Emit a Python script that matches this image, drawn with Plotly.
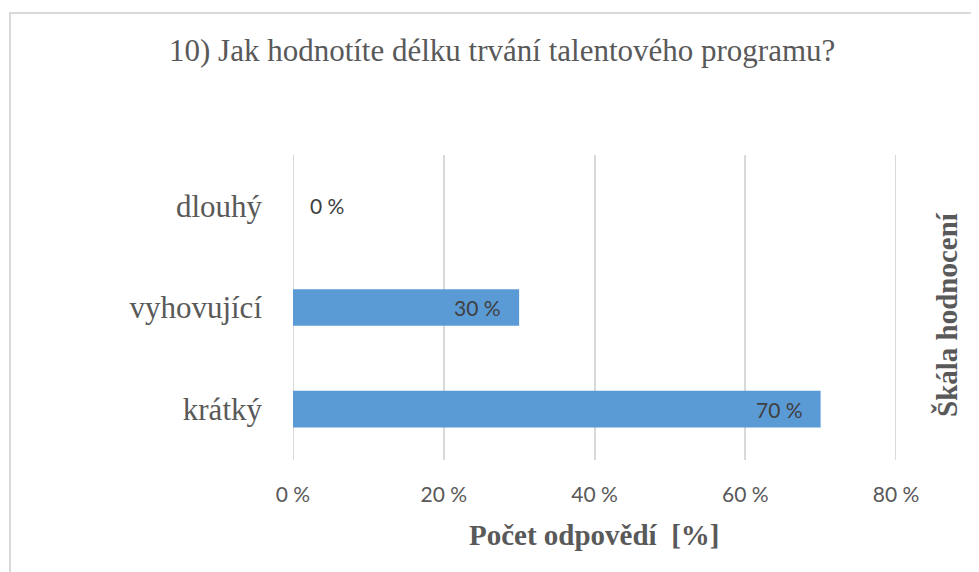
import plotly.graph_objects as go

categories = ["krátký", "vyhovující", "dlouhý"]
values = [70, 30, 0]
value_labels = ["70 %", "30 %", "0 %"]
tick_vals = [0, 20, 40, 60, 80]
tick_text = ["0 %", "20 %", "40 %", "60 %", "80 %"]
title_text = "10) Jak hodnotíte délku trvání talentového programu?"
x_title = "Počet odpovědí  [%]"
y_title = "Škála hodnocení"

SERIF = "Liberation Serif, Times New Roman, serif"
SANS = "Lato, sans-serif"
GRID = "#D9D9D9"

W, H = 971, 564
L, R, T, B = 285, 83, 147, 112
PW, PH = W - L - R, H - T - B

fig = go.Figure()
fig.add_trace(go.Bar(
    y=categories, x=values, orientation="h",
    marker=dict(color="#5B9BD5", line=dict(width=0)),
    width=0.36,
    hoverinfo="skip",
))

# data labels: inside end for non-zero bars, just right of the axis for zero
label_annotations = []
for cat, val, lab in zip(categories, values, value_labels):
    inside = val > 0
    label_annotations.append(dict(
        x=val, y=cat, xref="x", yref="y", text=lab, showarrow=False,
        xanchor="right" if inside else "left", yanchor="middle",
        xshift=-16 if inside else 15,
        font=dict(family=SANS, size=21, color="#404040"),
    ))

# edge gridlines (plotly omits gridlines sitting exactly on the plot-area edges)
edge_grid = [dict(type="line", xref="x", yref="paper", x0=v, x1=v, y0=0, y1=1,
                  line=dict(color=GRID, width=2), layer="below")
             for v in (tick_vals[0], tick_vals[-1])]

fig.update_layout(
    width=W, height=H,
    margin=dict(l=L, r=R, t=T, b=B, autoexpand=False),
    paper_bgcolor="white", plot_bgcolor="white",
    showlegend=False,
    font=dict(family=SERIF, color="#595959"),
    xaxis=dict(range=[tick_vals[0], tick_vals[-1]], tickvals=tick_vals, ticktext=tick_text,
               showgrid=True, gridcolor=GRID, gridwidth=2,
               zeroline=False, showline=False, ticks="",
               tickfont=dict(family=SANS, size=21, color="#595959"),
               ticklabelstandoff=20),
    yaxis=dict(categoryorder="array", categoryarray=categories,
               showgrid=False, zeroline=False, showline=False, ticks="",
               tickfont=dict(family=SERIF, size=31, color="#595959"),
               ticklabelstandoff=30),
    shapes=[dict(type="rect", xref="paper", yref="paper",
                 x0=(2 - L) / PW, x1=(W + 20 - L) / PW,
                 y0=-(H + 20 - T - PH) / PH, y1=(T + PH - 5) / PH,
                 line=dict(color=GRID, width=2), fillcolor="rgba(0,0,0,0)",
                 layer="below")] + edge_grid,
    annotations=label_annotations + [
        dict(text=title_text, xref="paper", yref="paper",
             x=(494 - L) / PW, y=(T + PH - 42) / PH,
             xanchor="center", yanchor="middle", showarrow=False,
             font=dict(family=SERIF, size=31, color="#595959")),
        dict(text="<b>" + x_title + "</b>", xref="paper", yref="paper",
             x=(586 - L) / PW, y=-(527 - T - PH) / PH,
             xanchor="center", yanchor="middle", showarrow=False,
             font=dict(family=SERIF, size=29, color="#595959")),
        dict(text="<b>" + y_title + "</b>", textangle=-90,
             xref="paper", yref="paper", x=(939 - L) / PW, y=(T + PH - 307) / PH,
             xanchor="center", yanchor="middle", showarrow=False,
             font=dict(family=SERIF, size=29, color="#595959")),
    ],
)

fig.write_html("out.html")
